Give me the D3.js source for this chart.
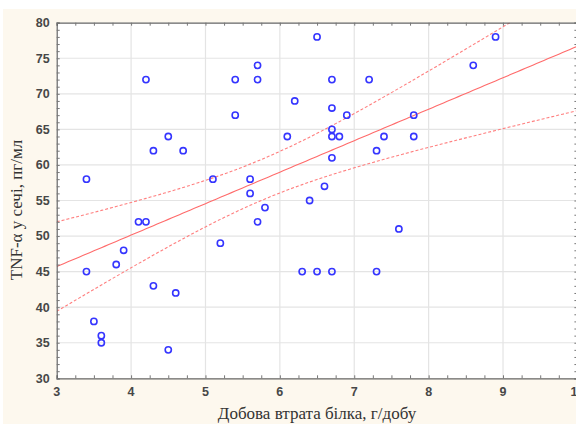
<!DOCTYPE html>
<html>
<head>
<meta charset="utf-8">
<script src="https://cdn.jsdelivr.net/npm/d3@7"></script>
<style>
  html, body { margin: 0; padding: 0; background: #fff; }
  svg { display: block; }
</style>
</head>
<body>
<svg id="chart" width="576" height="424"></svg>
<script>
// Добова втрата білка (г/добу)
var proteinLoss = [3.4, 3.4, 3.5, 3.6, 3.6, 3.8, 3.9, 4.1, 4.2, 4.2,
                   4.3, 4.3, 4.5, 4.5, 4.6, 4.7, 5.1, 5.2, 5.4, 5.4,
                   5.6, 5.6, 5.7, 5.7, 5.7, 5.8, 6.1, 6.2, 6.3, 6.4,
                   6.5, 6.5, 6.6, 6.7, 6.7, 6.7, 6.7, 6.7, 6.7, 6.8,
                   6.9, 7.2, 7.3, 7.3, 7.4, 7.6, 7.8, 7.8, 8.6, 8.9];
// TNF-α у сечі (пг/мл)
var tnfAlpha = [58, 45, 38, 36, 35, 46, 48, 52, 52, 72,
                62, 43, 64, 34, 42, 62, 58, 49, 72, 67,
                58, 56, 74, 72, 52, 54, 64, 69, 45, 55,
                78, 45, 57, 72, 68, 65, 64, 61, 45, 64,
                67, 72, 62, 45, 64, 51, 67, 64, 74, 78];
var xTicks = [3, 4, 5, 6, 7, 8, 9, 10];
var yTicks = [30, 35, 40, 45, 50, 55, 60, 65, 70, 75, 80];

var svg = d3.select("#chart"),
    margin = {top: 22.7, left: 56.7},
    plotW = 520.7,
    plotH = 355.6;

// фон
svg.append("rect").attr("x", 3).attr("y", 9).attr("width", 600).attr("height", 430)
    .attr("fill", "#fdf8ee");

var g = svg.append("g").attr("transform", "translate(" + margin.left + "," + margin.top + ")");

var x = d3.scaleLinear().domain([3, 10]).range([0, plotW]);
var y = d3.scaleLinear().domain([30, 80]).range([plotH, 0]);

g.append("rect").attr("width", plotW).attr("height", plotH).attr("fill", "#fff");

g.append("defs").append("clipPath").attr("id", "clip")
    .append("rect").attr("width", plotW).attr("height", plotH);

// сітка
g.append("g").selectAll("line").data(xTicks.slice(1, -1)).join("line")
    .attr("x1", function(d) { return x(d); }).attr("x2", function(d) { return x(d); })
    .attr("y1", 0).attr("y2", plotH)
    .attr("stroke", "#e4e4e4").attr("stroke-width", 1.2);
g.append("g").selectAll("line").data(yTicks.slice(1, -1)).join("line")
    .attr("y1", function(d) { return y(d); }).attr("y2", function(d) { return y(d); })
    .attr("x1", 0).attr("x2", plotW)
    .attr("stroke", "#e4e4e4").attr("stroke-width", 1.2);

// регресія та 95% довірчий інтервал
var n = proteinLoss.length,
    mx = d3.mean(proteinLoss),
    my = d3.mean(tnfAlpha),
    sxx = d3.sum(proteinLoss, function(v) { return (v - mx) * (v - mx); }),
    sxy = d3.sum(proteinLoss, function(v, i) { return (v - mx) * (tnfAlpha[i] - my); }),
    slope = sxy / sxx,
    icpt = my - slope * mx,
    sse = d3.sum(proteinLoss, function(v, i) { var r = tnfAlpha[i] - (icpt + slope * v); return r * r; }),
    s = Math.sqrt(sse / (n - 2)),
    tCrit = 2.0106;

var grid = d3.range(3, 10.001, 0.05);
function fit(v) { return icpt + slope * v; }
function hw(v) { return tCrit * s * Math.sqrt(1 / n + (v - mx) * (v - mx) / sxx); }

var line = d3.line().x(function(d) { return x(d[0]); }).y(function(d) { return y(d[1]); });
var lines = g.append("g").attr("clip-path", "url(#clip)");

lines.append("path")
    .datum(grid.map(function(v) { return [v, fit(v)]; }))
    .attr("d", line).attr("fill", "none").attr("stroke", "#ff6b6b").attr("stroke-width", 1.1);
[1, -1].forEach(function(sign) {
  lines.append("path")
      .datum(grid.map(function(v) { return [v, fit(v) + sign * hw(v)]; }))
      .attr("d", line).attr("fill", "none").attr("stroke", "#ff7f7f")
      .attr("stroke-width", 1.1).attr("stroke-dasharray", "3,2");
});

// осі
var xMinor = d3.range(3, 10.001, 0.25);
var yMinor = d3.range(30, 80.001, 1);

function styleAxis(sel) {
  sel.select(".domain").attr("stroke", "#666").attr("stroke-width", 1.2);
  sel.selectAll(".tick line").attr("stroke", "#777");
}

g.append("g").attr("transform", "translate(0," + plotH + ")")
    .call(d3.axisBottom(x).tickValues(xMinor).tickSize(-3).tickFormat(""))
    .call(styleAxis);
g.append("g")
    .call(d3.axisTop(x).tickValues(xMinor).tickSize(-3).tickFormat(""))
    .call(styleAxis);
g.append("g")
    .call(d3.axisLeft(y).tickValues(yMinor).tickSize(-3).tickFormat(""))
    .call(styleAxis);
g.append("g").attr("transform", "translate(" + plotW + ",0)")
    .call(d3.axisRight(y).tickValues(yMinor).tickSize(-3).tickFormat(""))
    .call(styleAxis);

// підписи поділок
g.append("g").selectAll("text").data(xTicks).join("text")
    .attr("x", function(d) { return x(d); }).attr("y", plotH + 18)
    .attr("text-anchor", "middle")
    .attr("font-family", "Liberation Sans, Arial, sans-serif").attr("font-size", 12.5)
    .attr("font-weight", "bold")
    .attr("fill", "#474747").text(function(d) { return d; });
g.append("g").selectAll("text").data(yTicks).join("text")
    .attr("x", -7).attr("y", function(d) { return y(d); }).attr("dy", "0.35em")
    .attr("text-anchor", "end")
    .attr("font-family", "Liberation Sans, Arial, sans-serif").attr("font-size", 12.5)
    .attr("font-weight", "bold")
    .attr("fill", "#474747").text(function(d) { return d; });

// точки
g.append("g").selectAll("circle").data(proteinLoss).join("circle")
    .attr("cx", function(d) { return x(d); })
    .attr("cy", function(d, i) { return y(tnfAlpha[i]); })
    .attr("r", 3.1)
    .attr("fill", "none").attr("stroke", "#3535ff").attr("stroke-width", 1.6);

// назви осей
svg.append("text")
    .attr("x", 317).attr("y", 419)
    .attr("text-anchor", "middle")
    .attr("font-family", "Liberation Serif, Times New Roman, serif").attr("font-size", 17)
    .attr("fill", "#333").text("Добова втрата білка, г/добу");
svg.append("text")
    .attr("transform", "translate(22,210) rotate(-90)")
    .attr("text-anchor", "middle")
    .attr("font-family", "Liberation Serif, Times New Roman, serif").attr("font-size", 17)
    .attr("fill", "#333").text("TNF-α у сечі, пг/мл");
</script>
</body>
</html>
